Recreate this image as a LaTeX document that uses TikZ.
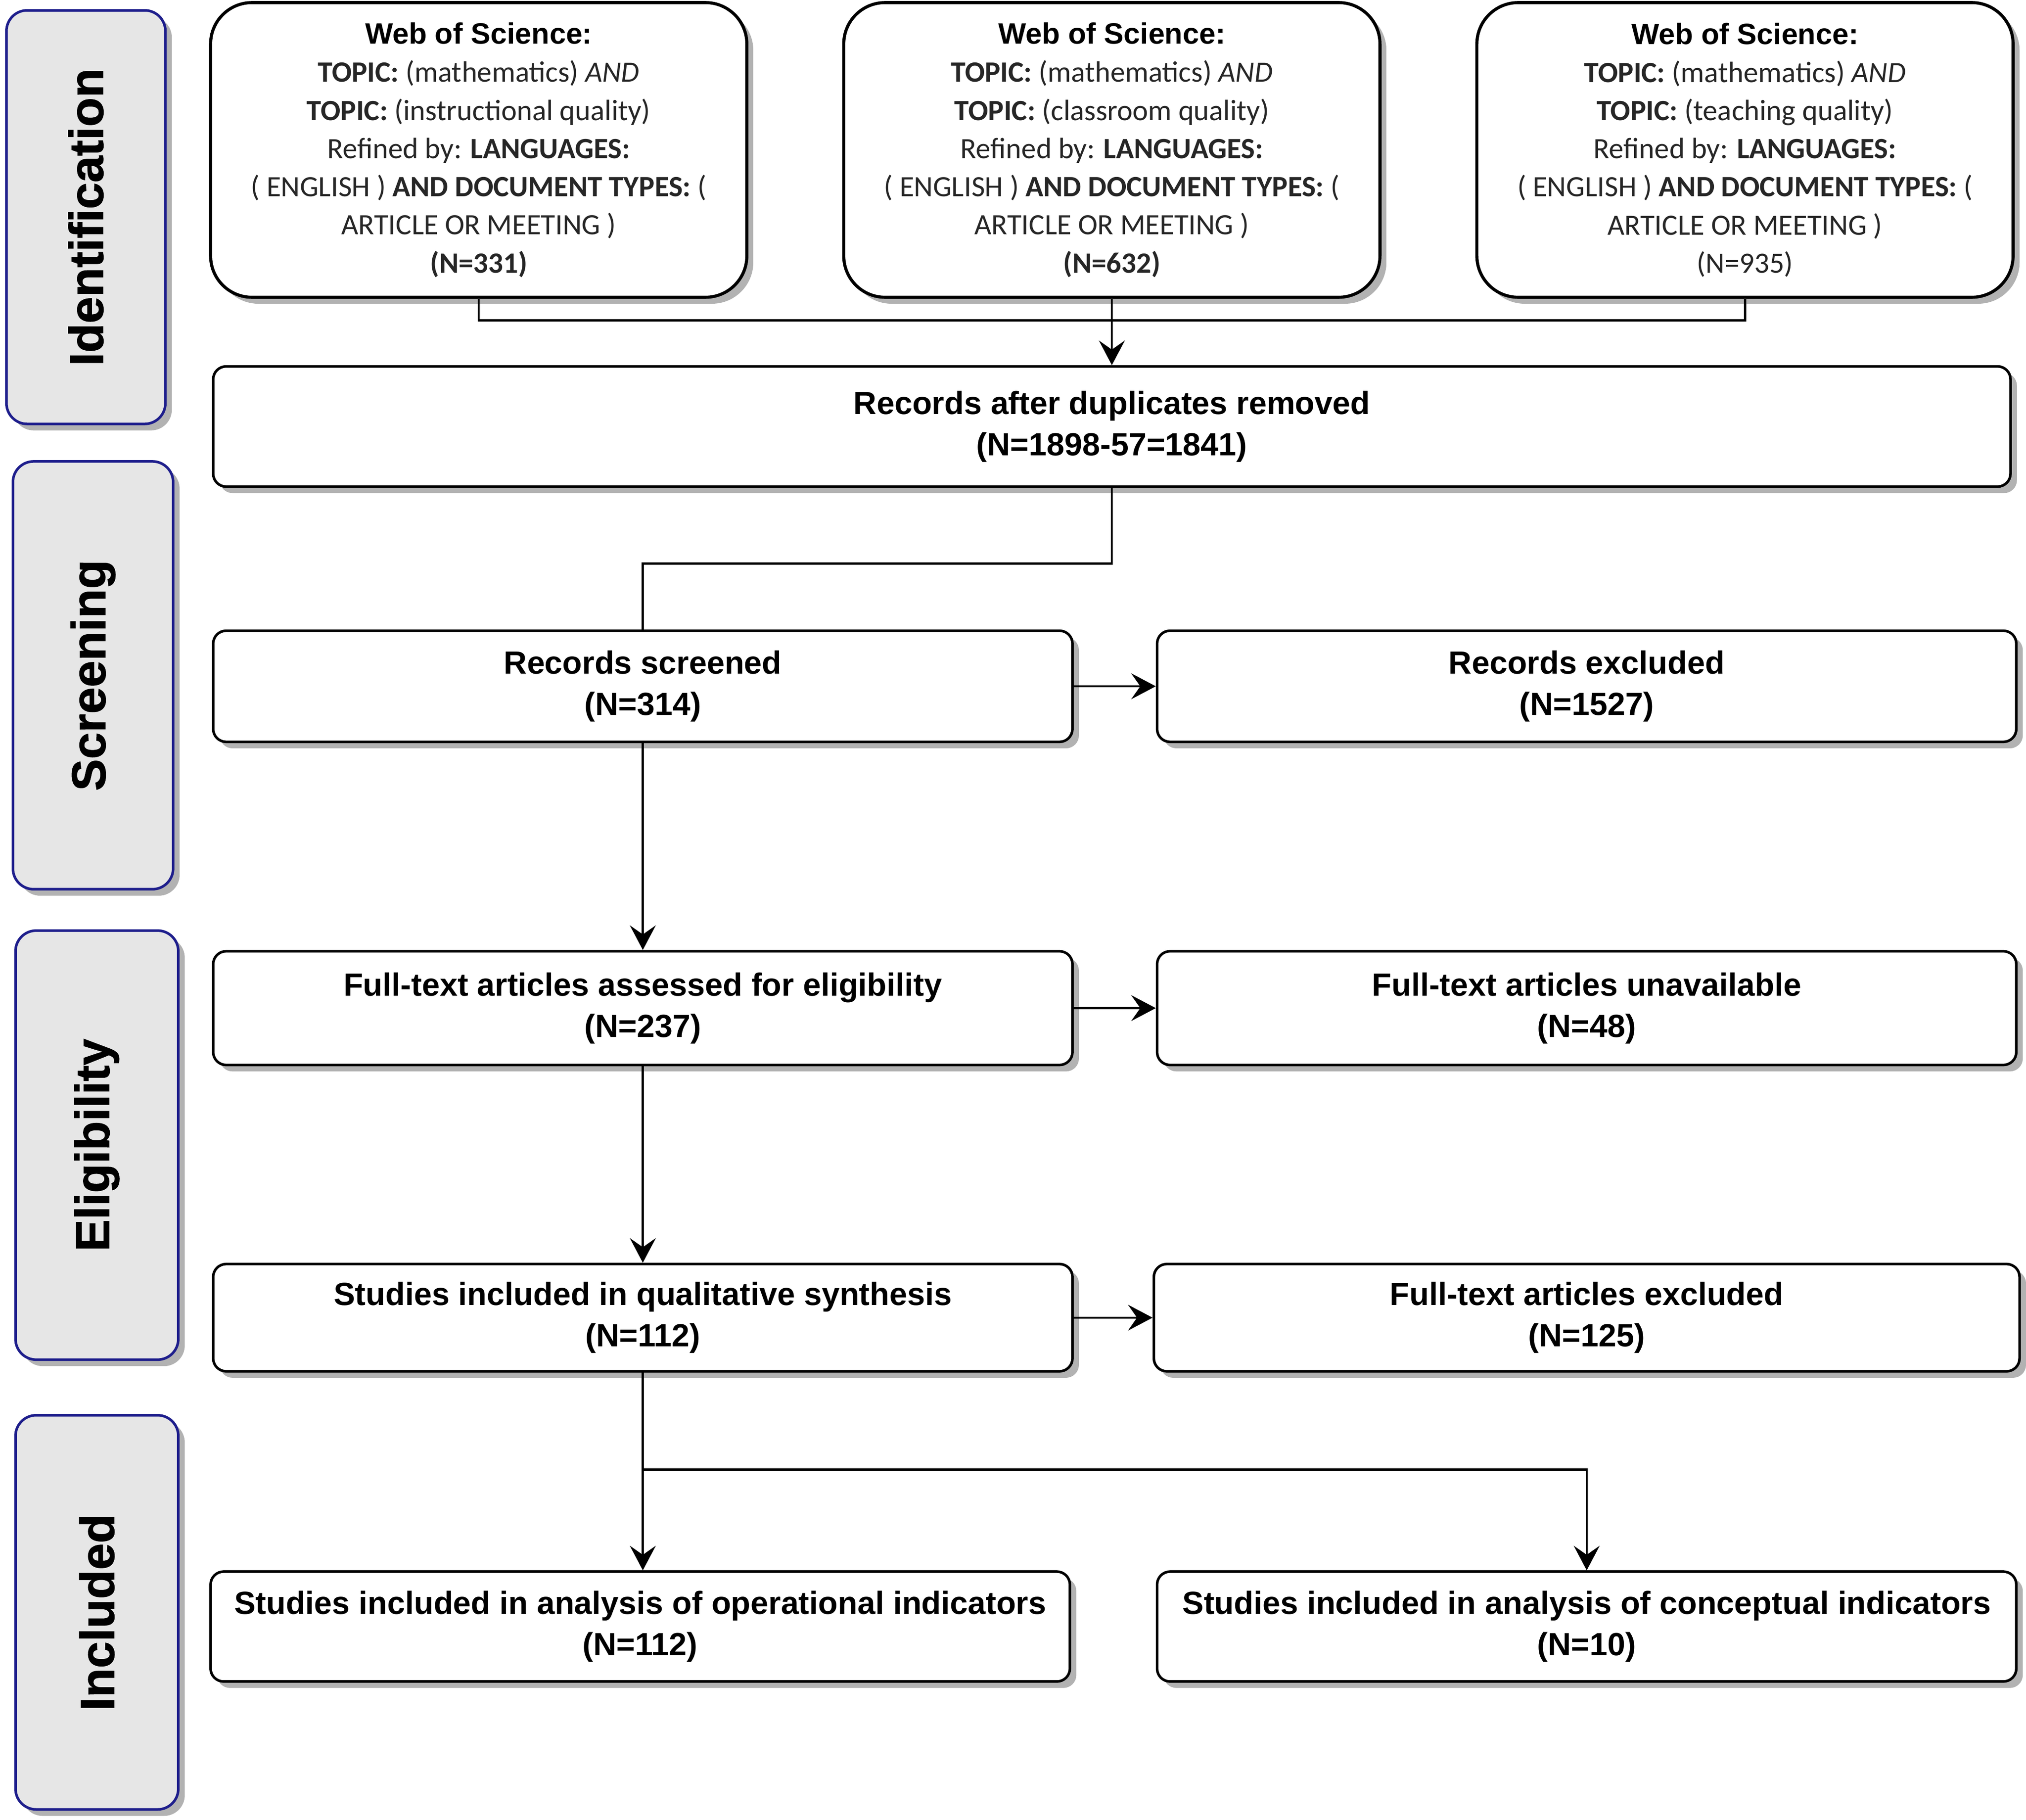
\documentclass[tikz,border=0pt]{standalone}
\usepackage{fontspec}
\setmainfont{Liberation Sans}
\newfontfamily\searchfont{Carlito}
\newfontfamily\stagefont{Liberation Sans Bold}[FakeBold=1.2]
\usetikzlibrary{positioning,shadows,arrows.meta}
\definecolor{stageblue}{RGB}{30,30,140}
\definecolor{stagegray}{RGB}{230,230,230}
\def\recw{332.5pt}
\def\rech{43pt}
\newcommand{\wosquery}[2]{%
	{\rmfamily\bfseries\color{black}Web of Science:}\\
	\textbf{TOPIC:} (mathematics) \textit{AND}\\
	\textbf{TOPIC:} (#1)\\
	Refined by: \textbf{LANGUAGES:}\\
	( ENGLISH ) \textbf{AND DOCUMENT TYPES:} (\\
	ARTICLE OR MEETING )\\
	#2}

\begin{document}
\begin{tikzpicture}[x=0.5pt,y=-0.5pt]
	\tikzstyle{shade box}=[drop shadow={shadow xshift=2.5pt,shadow yshift=-2.5pt,fill=black!30,opacity=1}]
	\tikzstyle{stage}=[shade box, draw=stageblue, fill=stagegray, line width=1pt, rounded corners=8pt, inner sep=0pt, font=\stagefont\fontsize{18.5pt}{20pt}\selectfont]
	\tikzstyle{search}=[shade box, draw, fill=white, line width=1.2pt, rounded corners=16pt, minimum width=207.5pt, minimum height=114pt, inner sep=0pt, align=center, text=black!85, font=\searchfont\fontsize{11.4pt}{14.75pt}\selectfont]
	\tikzstyle{record}=[shade box, draw, fill=white, line width=1pt, rounded corners=5pt, minimum width=\recw, minimum height=\rech, inner sep=0pt, align=center, font=\bfseries\fontsize{12.4pt}{16pt}\selectfont]
	\tikzstyle{link}=[line width=0.85pt]
	\tikzstyle{flow}=[link, -{Stealth[length=9.5pt,width=10pt,inset=3.5pt]}]

	\path[fill=white, use as bounding box] (0,0) rectangle (1568,1408);

	% Draw the stage labels on the left
	\node[stage, minimum width=61.5pt, minimum height=160pt] (ident) at (66.5,168) {\rotatebox{90}{Identification}};
	\node[stage, minimum width=62pt, minimum height=165.5pt] (screen) at (72,522.5) {\rotatebox{90}{Screening}};
	\node[stage, minimum width=63pt, minimum height=166pt] (elig) at (75,886) {\rotatebox{90}{Eligibility}};
	\node[stage, minimum width=63pt, minimum height=152.5pt] (incl) at (75,1247.5) {\rotatebox{90}{Included}};

	% Draw the three database searches
	\foreach \name/\xpos/\topic/\count in {1/370.5/{instructional quality}/{\textbf{(N=331)}},
		2/860.5/{classroom quality}/{\textbf{(N=632)}},
		3/1350.5/{teaching quality}/{(N=935)}}
	\node[search] (wos-\name) at (\xpos,116) {\wosquery{\topic}{\count}};

	% Draw the record boxes
	\node[record, minimum width=695.5pt, minimum height=46.5pt] (dedup) at (860.5,330) {Records after duplicates removed\\(N=1898-57=1841)};
	\node[record] (screened) at (497.5,531) {Records screened\\(N=314)};
	\node[record] (excluded) at (1228,531) {Records excluded\\(N=1527)};
	\node[record, minimum height=44pt] (assessed) at (497.5,780) {Full-text articles assessed for eligibility\\(N=237)};
	\node[record, minimum height=44pt] (unavail) at (1228,780) {Full-text articles unavailable\\(N=48)};
	\node[record, minimum height=41.5pt] (synth) at (497.5,1019.5) {Studies included in qualitative synthesis\\(N=112)};
	\node[record, minimum width=335pt, minimum height=41.5pt] (ftexcl) at (1228,1019.5) {Full-text articles excluded\\(N=125)};
	\node[record, minimum height=42.5pt] (operat) at (495.5,1258.5) {Studies included in analysis of operational indicators\\(N=112)};
	\node[record, minimum height=42.5pt] (concept) at (1228,1258.5) {Studies included in analysis of conceptual indicators\\(N=10)};

	% Merge the searches
	\coordinate (merge) at (860.5,248);
	\draw[link] (wos-1.south) |- (merge) -| (wos-3.south);
	\draw[flow] (wos-2.south) -- (dedup.north);

	% Connect the screening steps
	\coordinate (split) at (860.5,436);
	\draw[link] (dedup.south) -- (split) -| (screened.north);
	\draw[flow] (screened) -- (excluded);
	\draw[flow] (screened) -- (assessed);
	\draw[flow] (assessed) -- (unavail);
	\draw[flow] (assessed) -- (synth);
	\draw[flow] (synth) -- (ftexcl);

	% Split into the two analyses
	\draw[flow] (synth.south) -- (synth.south |- operat.north);
	\coordinate (fork) at (497.5,1137);
	\draw[flow] (fork) -| (concept.north);
\end{tikzpicture}
\end{document}
